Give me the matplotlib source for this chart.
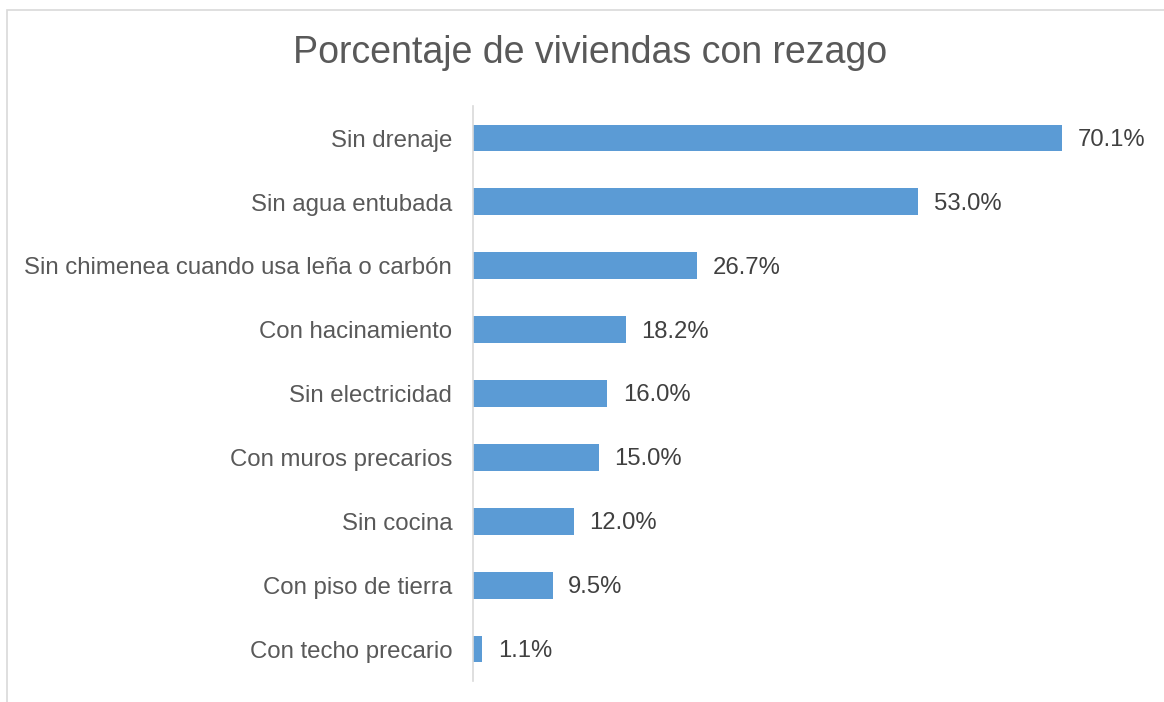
import matplotlib
matplotlib.use("Agg")
import matplotlib.pyplot as plt
from matplotlib.patches import Rectangle

categorias = [
    "Sin drenaje",
    "Sin agua entubada",
    "Sin chimenea cuando usa leña o carbón",
    "Con hacinamiento",
    "Sin electricidad",
    "Con muros precarios",
    "Sin cocina",
    "Con piso de tierra",
    "Con techo precario",
]
valores = [70.1, 53.0, 26.7, 18.2, 16.0, 15.0, 12.0, 9.5, 1.1]

plt.rcParams["font.family"] = ["Liberation Sans", "DejaVu Sans"]

fig = plt.figure(figsize=(11.64, 7.02), dpi=100)
fig.patches.append(Rectangle((7 / 1164, -0.1), 1.2, 1 - 10 / 702 + 0.1,
                             transform=fig.transFigure, fill=False,
                             edgecolor="#d9d9d9", lw=1.2))
ax = fig.add_axes([473 / 1164, 21 / 702, 672 / 1164, 575 / 702])

y = list(range(len(categorias)))
ax.barh(y, valores, height=0.42, color="#5b9bd5")
for yi, v in zip(y, valores):
    ax.text(v + 1.85, yi + 0.03, f"{v:.1f}%", va="center", ha="left",
            fontsize=17.2, color="#404040")

# category labels drawn as text so they can sit a touch below bar centre
for yi, cat in zip(y, categorias):
    ax.annotate(cat, xy=(0, yi), xycoords=("axes fraction", "data"),
                xytext=(-15, -2), textcoords="offset points",
                ha="right", va="center", fontsize=17.3, color="#595959")

ax.set_ylim(len(categorias) - 0.5, -0.5)
ax.set_xlim(0, 80)
ax.set_yticks([])
ax.set_xticks([])
for s in ["top", "right", "bottom"]:
    ax.spines[s].set_visible(False)
ax.spines["left"].set_color("#d9d9d9")
ax.spines["left"].set_linewidth(1.2)

fig.text(590 / 1164, 1 - 53 / 702, "Porcentaje de viviendas con rezago",
         ha="center", va="center", fontsize=27, color="#595959")

fig.savefig("out.png", dpi=100)
